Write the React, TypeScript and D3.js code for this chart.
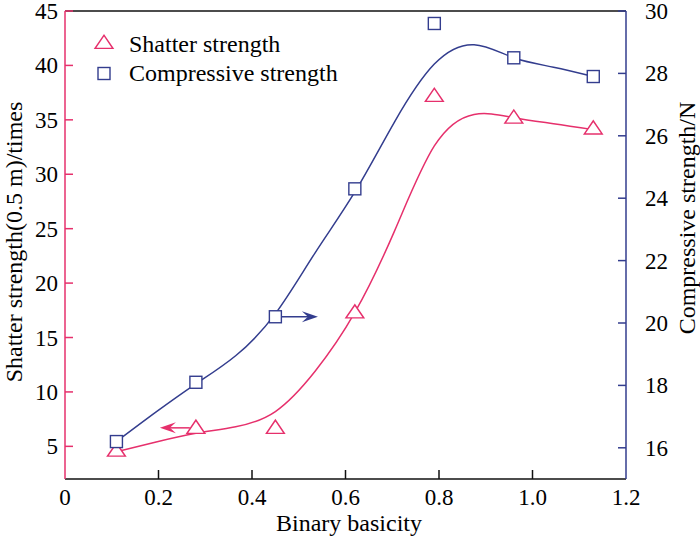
import { useRef, useEffect } from "react";
import * as d3 from "d3";

const PINK = "#e6306c";
const NAVY = "#333d8e";
const FONT = '"Liberation Serif", "Times New Roman", Times, Tinos, serif';

// measured points
const basicity = [0.11, 0.28, 0.45, 0.62, 0.79, 0.96, 1.13];
const shatter = [4.5, 6.6, 6.6, 17.2, 37.1, 35.1, 34.1];
const compressive = [16.2, 18.1, 20.2, 24.3, 29.6, 28.5, 27.9];

// fitted curves
const fitX = [0.11, 0.195, 0.28, 0.365, 0.45, 0.535, 0.62, 0.705, 0.79, 0.875, 0.96, 1.045, 1.13];
const shatterFit = [4.5, 5.4, 6.2, 6.8, 8.2, 11.9, 17.3, 24.8, 32.6, 35.5, 35.2, 34.65, 34.1];
const compFit = [16.2, 17.15, 18.05, 18.95, 20.3, 22.25, 24.2, 26.45, 28.3, 28.92, 28.5, 28.2, 27.9];

// axis-pointing arrows: [x from, x to, y]
const shatterArrow = [0.267, 0.203, 6.7];
const compArrow = [0.463, 0.541, 20.2];

const xTicks = [0, 0.2, 0.4, 0.6, 0.8, 1.0, 1.2];
const leftTicks = [5, 10, 15, 20, 25, 30, 35, 40, 45];
const rightTicks = [16, 18, 20, 22, 24, 26, 28, 30];

export default function App() {
  const svgRef = useRef<SVGSVGElement>(null);

  useEffect(() => {
    if (!svgRef.current) return;
    const W = 700, H = 539;
    const m = { left: 65, right: 626, top: 11, bottom: 479 };

    const svg = d3.select(svgRef.current);
    svg.selectAll("*").remove();
    svg.attr("width", W).attr("height", H);

    const x = d3.scaleLinear().domain([0, 1.2]).range([m.left, m.right]);
    const yL = d3.scaleLinear().domain([2, 45]).range([m.bottom, m.top]);
    const yR = d3.scaleLinear().domain([15, 30]).range([m.bottom, m.top]);

    const g = svg.append("g");

    // frame
    g.append("line").attr("x1", m.left).attr("x2", m.right).attr("y1", m.top).attr("y2", m.top)
      .attr("stroke", "#111").attr("stroke-width", 1.5);
    g.append("line").attr("x1", m.left).attr("x2", m.right).attr("y1", m.bottom).attr("y2", m.bottom)
      .attr("stroke", "#111").attr("stroke-width", 1.5);
    g.append("line").attr("x1", m.left).attr("x2", m.left).attr("y1", m.top).attr("y2", m.bottom)
      .attr("stroke", PINK).attr("stroke-width", 1.5);
    g.append("line").attr("x1", m.right).attr("x2", m.right).attr("y1", m.top).attr("y2", m.bottom)
      .attr("stroke", NAVY).attr("stroke-width", 1.5);

    // x ticks
    g.selectAll(".xt").data(xTicks.slice(1, -1)).join("line")
      .attr("x1", (d) => x(d)).attr("x2", (d) => x(d))
      .attr("y1", m.bottom).attr("y2", m.bottom - 9)
      .attr("stroke", "#111").attr("stroke-width", 1.5);
    g.selectAll(".xl").data(xTicks).join("text")
      .attr("x", (d) => x(d)).attr("y", 505)
      .attr("text-anchor", "middle")
      .style("font-family", FONT).style("font-size", "23px")
      .text((d) => (d === 0 ? "0" : d.toFixed(1)));

    // left ticks
    g.selectAll(".lt").data(leftTicks).join("line")
      .attr("x1", m.left).attr("x2", m.left + 8)
      .attr("y1", (d) => yL(d)).attr("y2", (d) => yL(d))
      .attr("stroke", PINK).attr("stroke-width", 1.5);
    g.selectAll(".ll").data(leftTicks).join("text")
      .attr("x", 58).attr("y", (d) => yL(d)).attr("dy", "0.35em")
      .attr("text-anchor", "end")
      .style("font-family", FONT).style("font-size", "23px")
      .text((d) => d);

    // right ticks
    g.selectAll(".rt").data(rightTicks).join("line")
      .attr("x1", m.right).attr("x2", m.right - 8)
      .attr("y1", (d) => yR(d)).attr("y2", (d) => yR(d))
      .attr("stroke", NAVY).attr("stroke-width", 1.5);
    g.selectAll(".rl").data(rightTicks).join("text")
      .attr("x", 645).attr("y", (d) => yR(d)).attr("dy", "0.35em")
      .attr("text-anchor", "start")
      .style("font-family", FONT).style("font-size", "23px")
      .text((d) => d);

    // axis titles
    g.append("text").attr("x", 349).attr("y", 531).attr("text-anchor", "middle")
      .style("font-family", FONT).style("font-size", "24px")
      .text("Binary basicity");
    g.append("text").attr("transform", "translate(21.5,242) rotate(-90)").attr("text-anchor", "middle")
      .style("font-family", FONT).style("font-size", "24px")
      .text("Shatter strength(0.5 m)/times");
    g.append("text").attr("transform", "translate(695,218) rotate(-90)").attr("text-anchor", "middle")
      .style("font-family", FONT).style("font-size", "24px")
      .text("Compressive strength/N");

    // fitted curves
    const fit = (ys: number[], y: d3.ScaleLinear<number, number>) =>
      d3.line<number>().x((_, i) => x(fitX[i])).y((d) => y(d)).curve(d3.curveNatural)(ys);
    g.append("path").attr("d", fit(shatterFit, yL)).attr("fill", "none")
      .attr("stroke", PINK).attr("stroke-width", 1.5);
    g.append("path").attr("d", fit(compFit, yR)).attr("fill", "none")
      .attr("stroke", NAVY).attr("stroke-width", 1.5);

    // arrows
    const arrow = (x0: number, x1: number, y: number, color: string) => {
      const dir = Math.sign(x1 - x0);
      g.append("line").attr("x1", x0).attr("x2", x1 - dir * 6).attr("y1", y).attr("y2", y)
        .attr("stroke", color).attr("stroke-width", 1.5);
      const L = 16, hw = 5.5, notch = 6;
      g.append("path")
        .attr("d", `M${x1},${y} L${x1 - dir * L},${y - hw} L${x1 - dir * (L - notch)},${y} L${x1 - dir * L},${y + hw} Z`)
        .attr("fill", color);
    };
    arrow(x(shatterArrow[0]), x(shatterArrow[1]), yL(shatterArrow[2]), PINK);
    arrow(x(compArrow[0]), x(compArrow[1]), yR(compArrow[2]), NAVY);

    // markers
    const tri = d3.symbol().type(d3.symbolTriangle).size(110);
    const triT = "scale(1.12,0.95)";
    g.selectAll(".tri").data(shatter).join("path")
      .attr("d", tri)
      .attr("transform", (d, i) => `translate(${x(basicity[i])},${yL(d)}) ${triT}`)
      .attr("fill", "white").attr("stroke", PINK).attr("stroke-width", 1.4);
    g.selectAll(".sq").data(compressive).join("rect")
      .attr("x", (_, i) => x(basicity[i]) - 6).attr("y", (d) => yR(d) - 6)
      .attr("width", 12).attr("height", 12)
      .attr("fill", "white").attr("stroke", NAVY).attr("stroke-width", 1.4);

    // legend
    g.append("path").attr("d", tri).attr("transform", `translate(104,44) ${triT}`)
      .attr("fill", "white").attr("stroke", PINK).attr("stroke-width", 1.4);
    g.append("rect").attr("x", 98).attr("y", 67.5).attr("width", 12).attr("height", 12)
      .attr("fill", "white").attr("stroke", NAVY).attr("stroke-width", 1.4);
    g.append("text").attr("x", 129).attr("y", 52)
      .style("font-family", FONT).style("font-size", "24px")
      .text("Shatter strength");
    g.append("text").attr("x", 129).attr("y", 81)
      .style("font-family", FONT).style("font-size", "24px")
      .text("Compressive strength");
  }, []);

  return <svg ref={svgRef} style={{ position: "absolute", left: 0, top: 0, display: "block" }} />;
}
